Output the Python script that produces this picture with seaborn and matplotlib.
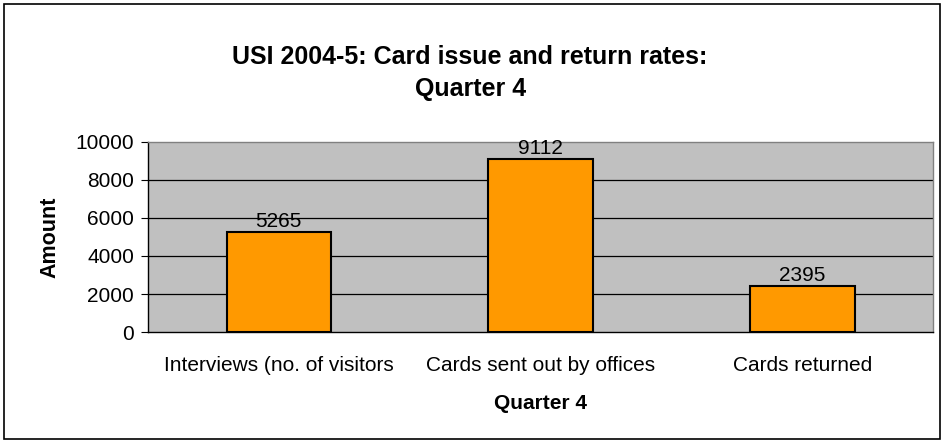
import pandas as pd
import matplotlib.pyplot as plt
import seaborn as sns
from matplotlib.patches import Rectangle

# chart data
categories = ["Interviews (no. of visitors", "Cards sent out by offices", "Cards returned"]
amounts = [5265, 9112, 2395]
y_ticks = [0, 2000, 4000, 6000, 8000, 10000]

df = pd.DataFrame({"Category": categories, "Amount": amounts})

sns.set_style("white")
plt.rcParams['font.family'] = ['Liberation Sans', 'DejaVu Sans']
plt.rcParams['text.color'] = 'black'
plt.rcParams['axes.labelcolor'] = 'black'
plt.rcParams['xtick.color'] = 'black'
plt.rcParams['ytick.color'] = 'black'

fig = plt.figure(figsize=(9.44, 4.43), dpi=100)
ax = fig.add_axes([148 / 944, 1 - 332 / 443, 785 / 944, 190 / 443])

# outer frame of the chart
fig.patches.append(Rectangle((4 / 944, 4 / 443), 936 / 944, 435 / 443, transform=fig.transFigure,
                             fill=False, edgecolor="black", linewidth=1.2))

sns.barplot(data=df, x="Category", y="Amount", color="#FF9900", saturation=1,
            width=0.4, edgecolor="black", linewidth=1.5, ax=ax, zorder=3)

ax.set_facecolor("#C0C0C0")
ax.set_ylim(0, 10000)
ax.set_xlim(-0.5, 2.5)
ax.set_yticks(y_ticks)
ax.set_yticklabels([str(t) for t in y_ticks], fontsize=15)
for t in y_ticks[1:-1]:
    ax.axhline(t, color="black", linewidth=0.9, zorder=1)

# category ticks between groups
ax.set_xticks([0, 1, 2])
ax.set_xticklabels(categories, fontsize=15)
ax.tick_params(axis="x", length=0, pad=17)
ax.set_xticks([0.5, 1.5, 2.5], minor=True)
ax.tick_params(axis="x", which="minor", length=5, color="#808080", direction="out")
ax.tick_params(axis="y", length=5, direction="out", left=True, pad=5)

for side in ["top", "right"]:
    ax.spines[side].set_color("#808080")
    ax.spines[side].set_linewidth(1)
for side in ["left", "bottom"]:
    ax.spines[side].set_color("black")
    ax.spines[side].set_linewidth(1)

for i, v in enumerate(amounts):
    ax.text(i, v + 60, str(v), ha="center", va="bottom", fontsize=15, zorder=4)

ax.set_xlabel("Quarter 4", fontsize=15, fontweight="bold", labelpad=14)
ax.set_ylabel("Amount", fontsize=15.5, fontweight="bold", labelpad=11)
fig.text(0.498, 1 - 73 / 443, "USI 2004-5: Card issue and return rates:\nQuarter 4",
         ha="center", va="center", fontsize=18, fontweight="bold", linespacing=1.4)

fig.savefig("out.png", dpi=100)
